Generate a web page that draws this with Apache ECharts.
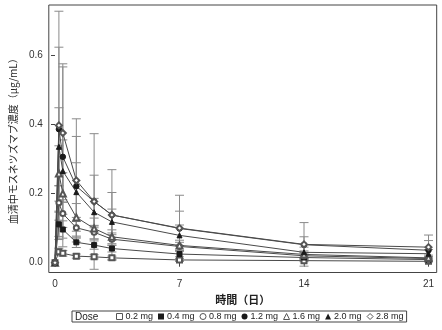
<!DOCTYPE html>
<html>
<head>
<meta charset="utf-8">
<script src="https://cdn.jsdelivr.net/npm/echarts@6/dist/echarts.min.js"></script>
<style>
  html, body { margin: 0; padding: 0; background: #fff; }
  #chart { width: 442px; height: 330px; }
</style>
</head>
<body>
<div id="chart"></div>
<script>
// Sampling times (days after dose)
const times = [0, 0.22, 0.44, 1.2, 2.2, 3.2, 7, 14, 21];

// Dose groups
const doseNames = ['0.2 mg', '0.4 mg', '0.8 mg', '1.2 mg', '1.6 mg', '2.0 mg', '2.8 mg'];

// Mean serum concentrations (µg/mL)
const mean02 = [0, 0.032, 0.027, 0.019, 0.017, 0.014, 0.008, 0.006, 0.004];
const mean04 = [0, 0.111, 0.096, 0.059, 0.051, 0.041, 0.025, 0.015, 0.009];
const mean08 = [0, 0.173, 0.142, 0.101, 0.088, 0.068, 0.047, 0.020, 0.012];
const mean12 = [0, 0.386, 0.306, 0.221, 0.177, 0.138, 0.099, 0.052, 0.036];
const mean16 = [0, 0.258, 0.200, 0.131, 0.099, 0.075, 0.050, 0.024, 0.014];
const mean20 = [0, 0.335, 0.265, 0.204, 0.146, 0.118, 0.079, 0.030, 0.026];
const mean28 = [0, 0.397, 0.375, 0.238, 0.177, 0.138, 0.100, 0.053, 0.045];

// Standard deviations (µg/mL)
const sd02 = [0, 0.010, 0.008, 0.006, 0.006, 0.005, 0.004, 0.003, 0.002];
const sd04 = [0, 0.035, 0.025, 0.015, 0.012, 0.010, 0.008, 0.005, 0.004];
const sd08 = [0, 0.050, 0.040, 0.030, 0.020, 0.018, 0.012, 0.008, 0.006];
const sd12 = [0, 0.237, 0.260, 0.144, 0.076, 0.065, 0.050, 0.023, 0.028];
const sd16 = [0, 0.080, 0.060, 0.040, 0.030, 0.020, 0.015, 0.010, 0.008];
const sd20 = [0, 0.113, 0.090, 0.085, 0.040, 0.037, 0.030, 0.015, 0.012];
const sd28 = [0, 0.330, 0.200, 0.178, 0.196, 0.131, 0.095, 0.063, 0.035];

// Axis tick labels
const xTicks = [0, 7, 14, 21];
const yTicks = [0, 0.2, 0.4, 0.6];

const means = [mean02, mean04, mean08, mean12, mean16, mean20, mean28];
const sds = [sd02, sd04, sd08, sd12, sd16, sd20, sd28];
const symbols = ['emptyRect', 'rect', 'emptyCircle', 'circle', 'emptyTriangle', 'triangle', 'emptyDiamond'];
const symbolSizes = [5, 5, 5, 5.5, 6, 5, 6];

const ink = '#1a1a1a';
const openInk = '#555';
const lineInk = '#4a4a4a';
const barInk = '#8a8a8a';

function errorBarRender(params, api) {
  const x = api.value(0);
  const lo = api.coord([x, api.value(1)]);
  const hi = api.coord([x, api.value(2)]);
  const half = 4.5;
  const style = { stroke: barInk, lineWidth: 1 };
  return {
    type: 'group',
    children: [
      { type: 'line', shape: { x1: hi[0], y1: hi[1], x2: lo[0], y2: lo[1] }, style },
      { type: 'line', shape: { x1: hi[0] - half, y1: hi[1], x2: hi[0] + half, y2: hi[1] }, style },
      { type: 'line', shape: { x1: lo[0] - half, y1: lo[1], x2: lo[0] + half, y2: lo[1] }, style }
    ]
  };
}

const series = [];
// error bars first so they sit underneath
means.forEach((m, i) => {
  series.push({
    type: 'custom',
    name: doseNames[i] + ' SD',
    renderItem: errorBarRender,
    encode: { x: 0, y: [1, 2] },
    data: times.map((t, k) => [t, m[k] - sds[i][k], m[k] + sds[i][k]]).filter((d, k) => sds[i][k] > 0),
    z: 1,
    silent: true
  });
});
means.forEach((m, i) => {
  const empty = symbols[i].startsWith('empty');
  series.push({
    type: 'line',
    name: doseNames[i],
    data: times.map((t, k) => [t, m[k]]),
    symbol: symbols[i],
    symbolSize: symbolSizes[i],
    showAllSymbol: true,
    lineStyle: { color: lineInk, width: 1 },
    itemStyle: empty
      ? { color: openInk, borderColor: openInk, borderWidth: 1 }
      : { color: ink, borderColor: ink, borderWidth: 1 },
    z: 3
  });
});

const legendData = doseNames.map((n, i) => {
  const empty = symbols[i].startsWith('empty');
  const base = empty ? symbols[i].slice(5).toLowerCase() : symbols[i];
  return {
    name: n,
    icon: base,
    itemStyle: empty
      ? { color: '#fff', borderColor: '#555', borderWidth: 1 }
      : { color: ink, borderColor: ink, borderWidth: 0 }
  };
});

const chart = echarts.init(document.getElementById('chart'), null, { renderer: 'canvas' });
chart.setOption({
  animation: false,
  backgroundColor: '#fff',
  textStyle: { fontFamily: 'Liberation Sans, Arial, sans-serif' },
  grid: {
    left: 42, top: 5, width: 394.7, height: 267.5,
    show: true, borderColor: '#444', borderWidth: 1, backgroundColor: 'transparent'
  },
  xAxis: {
    type: 'value',
    min: -0.348, max: 21.46,
    name: '時間（日）',
    nameLocation: 'middle',
    nameGap: 18,
    nameTextStyle: { fontFamily: 'Noto Sans CJK JP', fontSize: 11, fontWeight: 'bold', color: '#222' },
    axisLine: { show: false },
    axisTick: { show: true, length: 4, lineStyle: { color: '#444' }, customValues: xTicks },
    axisLabel: { show: true, fontSize: 10, color: '#333', margin: 7, customValues: xTicks, formatter: v => String(v) },
    splitLine: { show: false }
  },
  yAxis: {
    type: 'value',
    min: -0.0283, max: 0.745,
    name: '血清中モスネツズマブ濃度（μg/mL）',
    nameLocation: 'middle',
    nameRotate: 90,
    nameGap: 25,
    nameTextStyle: { fontFamily: 'Noto Sans CJK JP', fontSize: 10, color: '#222' },
    axisLine: { show: false },
    axisTick: { show: true, length: 4, lineStyle: { color: '#444' }, customValues: yTicks },
    axisLabel: { show: true, fontSize: 10, color: '#333', margin: 6, customValues: yTicks, formatter: v => v.toFixed(1) },
    splitLine: { show: false }
  },
  legend: {
    data: legendData,
    left: 72, top: 311,
    orient: 'horizontal',
    padding: [1, 3, 1, 44],
    borderColor: '#444', borderWidth: 1,
    itemWidth: 6, itemHeight: 6, itemGap: 5,
    textStyle: { fontSize: 9, color: '#222', padding: [0, 0, 0, -2] },
    selectedMode: false
  },
  graphic: [{
    type: 'text',
    left: 75, top: 312,
    style: { text: 'Dose', fontSize: 10, fill: '#222', fontFamily: 'Liberation Sans, Arial, sans-serif' }
  }],
  series
});
</script>
</body>
</html>
